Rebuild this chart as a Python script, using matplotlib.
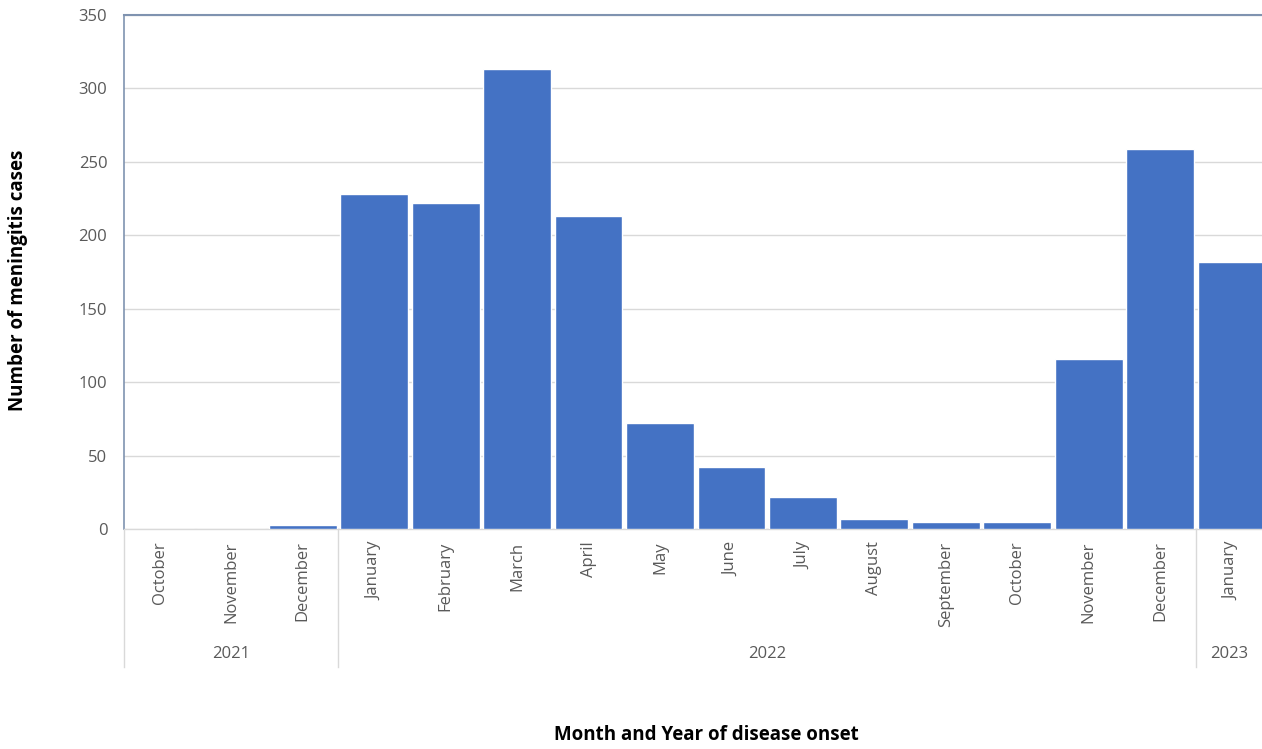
import matplotlib
matplotlib.use("Agg")
import matplotlib.pyplot as plt
import matplotlib.transforms as mtransforms

months = ["October", "November", "December", "January", "February", "March",
          "April", "May", "June", "July", "August", "September", "October",
          "November", "December", "January"]
cases = [0, 0, 3, 228, 222, 313, 213, 72, 42, 22, 7, 5, 5, 116, 259, 182]
years = ["2021", "2022", "2023"]
year_counts = [3, 12, 1]
y_ticks = [0, 50, 100, 150, 200, 250, 300, 350]

W, H = 1262, 749
fig = plt.figure(figsize=(W / 100, H / 100), dpi=100)
left, right, top, bottom = 124, 1262, 15, 529
ax = fig.add_axes([left / W, 1 - bottom / H, (right - left) / W, (bottom - top) / H])

font = "Open Sans"
bar_color = "#4472C4"
text_color = "#595959"

x = list(range(len(months)))
ax.bar(x, cases, width=0.95, color=bar_color, edgecolor="white", linewidth=1.0, zorder=3)

slot_px = (1196 - 124) / 15.0
ax.set_xlim(-0.5, -0.5 + (right - left) / slot_px)
ax.set_ylim(0, 350)
ax.set_yticks(y_ticks)
ax.set_yticklabels([str(v) for v in y_ticks], fontfamily=font, fontsize=12, color=text_color)
ax.tick_params(axis="y", length=0, pad=12)
ax.yaxis.grid(True, color="#d9d9d9", linewidth=1.0, zorder=0)
ax.set_axisbelow(True)

ax.set_xticks(x)
ax.set_xticklabels(months, rotation=90, fontfamily=font, fontsize=12, color=text_color,
                   va="top", ha="center")
ax.tick_params(axis="x", length=0, pad=9)

ax.spines["right"].set_visible(False)
ax.spines["top"].set_color("#7f93b0")
ax.spines["top"].set_linewidth(1.5)
ax.spines["left"].set_color("#7f93b0")
ax.spines["left"].set_linewidth(1.2)
ax.spines["bottom"].set_color("#d9d9d9")
ax.spines["bottom"].set_linewidth(1.0)

trans = mtransforms.blended_transform_factory(ax.transData, ax.transAxes)
line_bottom = -(667 - bottom) / (bottom - top)
label_y = -(654 - bottom) / (bottom - top)
boundaries = [-0.5]
for c in year_counts:
    boundaries.append(boundaries[-1] + c)
for b in boundaries[:-1]:
    ax.plot([b, b], [0, line_bottom], transform=trans, color="#d9d9d9", linewidth=1.0, clip_on=False)
for i, yr in enumerate(years):
    a, b = boundaries[i], boundaries[i + 1]
    if i == len(years) - 1:
        b = min(b, ax.get_xlim()[1])
    ax.text((a + b) / 2, label_y, yr, transform=trans, ha="center", va="center",
            fontfamily=font, fontsize=12, color=text_color)

fig.text(18 / W, 1 - 280 / H, "Number of meningitis cases", rotation=90, ha="center", va="center",
         fontfamily=font, fontsize=13.5, fontweight="bold", color="black")
fig.text(706 / W, 1 - 735 / H, "Month and Year of disease onset", ha="center", va="center",
         fontfamily=font, fontsize=13.5, fontweight="bold", color="black")

fig.savefig("out.png", dpi=100)
